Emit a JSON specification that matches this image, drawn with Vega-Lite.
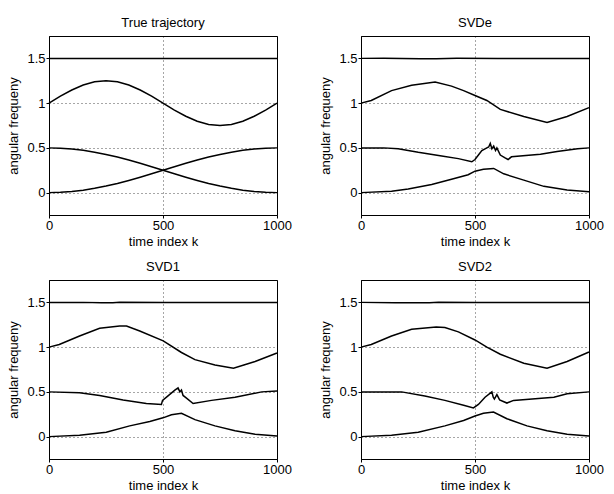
{
  "$schema": "https://vega.github.io/schema/vega-lite/v6.json",
  "padding": {"left": 7, "top": 16, "right": 5, "bottom": 5},
  "background": "white",
  "columns": 2,
  "bounds": "flush",
  "spacing": {"row": 65, "column": 84},
  "datasets": {
    "d": [
      {"p":"T","s":"a","k":0,"f":1.5},{"p":"T","s":"a","k":1000,"f":1.5},
      {"p":"T","s":"b","k":0,"f":1.0},{"p":"T","s":"b","k":50,"f":1.0773},{"p":"T","s":"b","k":100,"f":1.1469},{"p":"T","s":"b","k":150,"f":1.2023},{"p":"T","s":"b","k":200,"f":1.2378},{"p":"T","s":"b","k":250,"f":1.25},{"p":"T","s":"b","k":300,"f":1.2378},{"p":"T","s":"b","k":350,"f":1.2023},{"p":"T","s":"b","k":400,"f":1.1469},{"p":"T","s":"b","k":450,"f":1.0773},{"p":"T","s":"b","k":500,"f":1.0},{"p":"T","s":"b","k":550,"f":0.9227},{"p":"T","s":"b","k":600,"f":0.8531},{"p":"T","s":"b","k":650,"f":0.7977},{"p":"T","s":"b","k":700,"f":0.7622},{"p":"T","s":"b","k":750,"f":0.75},{"p":"T","s":"b","k":800,"f":0.7622},{"p":"T","s":"b","k":850,"f":0.7977},{"p":"T","s":"b","k":900,"f":0.8531},{"p":"T","s":"b","k":950,"f":0.9227},{"p":"T","s":"b","k":1000,"f":1.0},
      {"p":"T","s":"c","k":0,"f":0.5},{"p":"T","s":"c","k":50,"f":0.4969},{"p":"T","s":"c","k":100,"f":0.4878},{"p":"T","s":"c","k":150,"f":0.4728},{"p":"T","s":"c","k":200,"f":0.4523},{"p":"T","s":"c","k":250,"f":0.4268},{"p":"T","s":"c","k":300,"f":0.3969},{"p":"T","s":"c","k":350,"f":0.3635},{"p":"T","s":"c","k":400,"f":0.3273},{"p":"T","s":"c","k":450,"f":0.2891},{"p":"T","s":"c","k":500,"f":0.25},{"p":"T","s":"c","k":550,"f":0.2109},{"p":"T","s":"c","k":600,"f":0.1727},{"p":"T","s":"c","k":650,"f":0.1365},{"p":"T","s":"c","k":700,"f":0.1031},{"p":"T","s":"c","k":750,"f":0.0732},{"p":"T","s":"c","k":800,"f":0.0477},{"p":"T","s":"c","k":850,"f":0.0272},{"p":"T","s":"c","k":900,"f":0.0122},{"p":"T","s":"c","k":950,"f":0.0031},{"p":"T","s":"c","k":1000,"f":0.0},
      {"p":"T","s":"d","k":0,"f":0.0},{"p":"T","s":"d","k":50,"f":0.0031},{"p":"T","s":"d","k":100,"f":0.0122},{"p":"T","s":"d","k":150,"f":0.0272},{"p":"T","s":"d","k":200,"f":0.0477},{"p":"T","s":"d","k":250,"f":0.0732},{"p":"T","s":"d","k":300,"f":0.1031},{"p":"T","s":"d","k":350,"f":0.1365},{"p":"T","s":"d","k":400,"f":0.1727},{"p":"T","s":"d","k":450,"f":0.2109},{"p":"T","s":"d","k":500,"f":0.25},{"p":"T","s":"d","k":550,"f":0.2891},{"p":"T","s":"d","k":600,"f":0.3273},{"p":"T","s":"d","k":650,"f":0.3635},{"p":"T","s":"d","k":700,"f":0.3969},{"p":"T","s":"d","k":750,"f":0.4268},{"p":"T","s":"d","k":800,"f":0.4523},{"p":"T","s":"d","k":850,"f":0.4728},{"p":"T","s":"d","k":900,"f":0.4878},{"p":"T","s":"d","k":950,"f":0.4969},{"p":"T","s":"d","k":1000,"f":0.5},

      {"p":"E","s":"a","k":0,"f":1.5},{"p":"E","s":"a","k":100,"f":1.502},{"p":"E","s":"a","k":180,"f":1.499},{"p":"E","s":"a","k":260,"f":1.496},{"p":"E","s":"a","k":330,"f":1.497},{"p":"E","s":"a","k":420,"f":1.501},{"p":"E","s":"a","k":600,"f":1.5},{"p":"E","s":"a","k":800,"f":1.5},{"p":"E","s":"a","k":1000,"f":1.5},
      {"p":"E","s":"b","k":0,"f":1.0},{"p":"E","s":"b","k":45,"f":1.03},{"p":"E","s":"b","k":134,"f":1.14},{"p":"E","s":"b","k":222,"f":1.2},{"p":"E","s":"b","k":325,"f":1.235},{"p":"E","s":"b","k":397,"f":1.19},{"p":"E","s":"b","k":450,"f":1.14},{"p":"E","s":"b","k":500,"f":1.085},{"p":"E","s":"b","k":552,"f":1.03},{"p":"E","s":"b","k":611,"f":0.93},{"p":"E","s":"b","k":714,"f":0.85},{"p":"E","s":"b","k":816,"f":0.785},{"p":"E","s":"b","k":904,"f":0.85},{"p":"E","s":"b","k":1000,"f":0.95},
      {"p":"E","s":"c","k":0,"f":0.5},{"p":"E","s":"c","k":100,"f":0.5},{"p":"E","s":"c","k":163,"f":0.49},{"p":"E","s":"c","k":251,"f":0.45},{"p":"E","s":"c","k":354,"f":0.41},{"p":"E","s":"c","k":427,"f":0.38},{"p":"E","s":"c","k":486,"f":0.345},{"p":"E","s":"c","k":500,"f":0.37},{"p":"E","s":"c","k":515,"f":0.42},{"p":"E","s":"c","k":530,"f":0.47},{"p":"E","s":"c","k":552,"f":0.5},{"p":"E","s":"c","k":560,"f":0.51},{"p":"E","s":"c","k":567,"f":0.55},{"p":"E","s":"c","k":574,"f":0.49},{"p":"E","s":"c","k":582,"f":0.52},{"p":"E","s":"c","k":590,"f":0.47},{"p":"E","s":"c","k":596,"f":0.5},{"p":"E","s":"c","k":611,"f":0.42},{"p":"E","s":"c","k":630,"f":0.39},{"p":"E","s":"c","k":645,"f":0.37},{"p":"E","s":"c","k":660,"f":0.4},{"p":"E","s":"c","k":787,"f":0.43},{"p":"E","s":"c","k":860,"f":0.46},{"p":"E","s":"c","k":950,"f":0.49},{"p":"E","s":"c","k":1000,"f":0.5},
      {"p":"E","s":"d","k":0,"f":0.0},{"p":"E","s":"d","k":134,"f":0.015},{"p":"E","s":"d","k":207,"f":0.04},{"p":"E","s":"d","k":310,"f":0.09},{"p":"E","s":"d","k":397,"f":0.15},{"p":"E","s":"d","k":470,"f":0.2},{"p":"E","s":"d","k":500,"f":0.24},{"p":"E","s":"d","k":537,"f":0.26},{"p":"E","s":"d","k":582,"f":0.27},{"p":"E","s":"d","k":626,"f":0.21},{"p":"E","s":"d","k":714,"f":0.14},{"p":"E","s":"d","k":802,"f":0.07},{"p":"E","s":"d","k":904,"f":0.03},{"p":"E","s":"d","k":1000,"f":0.01},

      {"p":"1","s":"a","k":0,"f":1.5},{"p":"1","s":"a","k":150,"f":1.5},{"p":"1","s":"a","k":230,"f":1.495},{"p":"1","s":"a","k":280,"f":1.496},{"p":"1","s":"a","k":310,"f":1.501},{"p":"1","s":"a","k":500,"f":1.5},{"p":"1","s":"a","k":800,"f":1.5},{"p":"1","s":"a","k":1000,"f":1.5},
      {"p":"1","s":"b","k":0,"f":1.0},{"p":"1","s":"b","k":45,"f":1.03},{"p":"1","s":"b","k":134,"f":1.125},{"p":"1","s":"b","k":222,"f":1.21},{"p":"1","s":"b","k":310,"f":1.235},{"p":"1","s":"b","k":340,"f":1.235},{"p":"1","s":"b","k":398,"f":1.18},{"p":"1","s":"b","k":501,"f":1.07},{"p":"1","s":"b","k":581,"f":0.94},{"p":"1","s":"b","k":640,"f":0.86},{"p":"1","s":"b","k":728,"f":0.8},{"p":"1","s":"b","k":809,"f":0.765},{"p":"1","s":"b","k":904,"f":0.84},{"p":"1","s":"b","k":1000,"f":0.935},
      {"p":"1","s":"c","k":0,"f":0.5},{"p":"1","s":"c","k":134,"f":0.49},{"p":"1","s":"c","k":222,"f":0.46},{"p":"1","s":"c","k":325,"f":0.41},{"p":"1","s":"c","k":427,"f":0.37},{"p":"1","s":"c","k":493,"f":0.36},{"p":"1","s":"c","k":498,"f":0.405},{"p":"1","s":"c","k":522,"f":0.455},{"p":"1","s":"c","k":552,"f":0.52},{"p":"1","s":"c","k":566,"f":0.545},{"p":"1","s":"c","k":574,"f":0.5},{"p":"1","s":"c","k":581,"f":0.52},{"p":"1","s":"c","k":588,"f":0.46},{"p":"1","s":"c","k":603,"f":0.43},{"p":"1","s":"c","k":632,"f":0.37},{"p":"1","s":"c","k":713,"f":0.405},{"p":"1","s":"c","k":816,"f":0.44},{"p":"1","s":"c","k":933,"f":0.5},{"p":"1","s":"c","k":1000,"f":0.51},
      {"p":"1","s":"d","k":0,"f":0.0},{"p":"1","s":"d","k":134,"f":0.015},{"p":"1","s":"d","k":251,"f":0.05},{"p":"1","s":"d","k":354,"f":0.12},{"p":"1","s":"d","k":442,"f":0.17},{"p":"1","s":"d","k":500,"f":0.21},{"p":"1","s":"d","k":537,"f":0.245},{"p":"1","s":"d","k":581,"f":0.26},{"p":"1","s":"d","k":640,"f":0.19},{"p":"1","s":"d","k":728,"f":0.12},{"p":"1","s":"d","k":816,"f":0.065},{"p":"1","s":"d","k":904,"f":0.027},{"p":"1","s":"d","k":1000,"f":0.008},

      {"p":"2","s":"a","k":0,"f":1.5},{"p":"2","s":"a","k":150,"f":1.496},{"p":"2","s":"a","k":300,"f":1.495},{"p":"2","s":"a","k":340,"f":1.501},{"p":"2","s":"a","k":500,"f":1.5},{"p":"2","s":"a","k":800,"f":1.5},{"p":"2","s":"a","k":1000,"f":1.5},
      {"p":"2","s":"b","k":0,"f":1.0},{"p":"2","s":"b","k":45,"f":1.03},{"p":"2","s":"b","k":134,"f":1.125},{"p":"2","s":"b","k":222,"f":1.2},{"p":"2","s":"b","k":330,"f":1.225},{"p":"2","s":"b","k":368,"f":1.22},{"p":"2","s":"b","k":427,"f":1.17},{"p":"2","s":"b","k":500,"f":1.08},{"p":"2","s":"b","k":552,"f":1.0},{"p":"2","s":"b","k":611,"f":0.92},{"p":"2","s":"b","k":714,"f":0.82},{"p":"2","s":"b","k":816,"f":0.765},{"p":"2","s":"b","k":904,"f":0.84},{"p":"2","s":"b","k":1000,"f":0.945},
      {"p":"2","s":"c","k":0,"f":0.5},{"p":"2","s":"c","k":178,"f":0.5},{"p":"2","s":"c","k":280,"f":0.455},{"p":"2","s":"c","k":368,"f":0.405},{"p":"2","s":"c","k":450,"f":0.35},{"p":"2","s":"c","k":493,"f":0.32},{"p":"2","s":"c","k":515,"f":0.36},{"p":"2","s":"c","k":544,"f":0.44},{"p":"2","s":"c","k":574,"f":0.5},{"p":"2","s":"c","k":580,"f":0.44},{"p":"2","s":"c","k":585,"f":0.42},{"p":"2","s":"c","k":596,"f":0.47},{"p":"2","s":"c","k":608,"f":0.41},{"p":"2","s":"c","k":640,"f":0.375},{"p":"2","s":"c","k":669,"f":0.405},{"p":"2","s":"c","k":846,"f":0.44},{"p":"2","s":"c","k":904,"f":0.48},{"p":"2","s":"c","k":1000,"f":0.5},
      {"p":"2","s":"d","k":0,"f":0.0},{"p":"2","s":"d","k":134,"f":0.015},{"p":"2","s":"d","k":251,"f":0.05},{"p":"2","s":"d","k":368,"f":0.12},{"p":"2","s":"d","k":450,"f":0.18},{"p":"2","s":"d","k":500,"f":0.23},{"p":"2","s":"d","k":537,"f":0.26},{"p":"2","s":"d","k":581,"f":0.275},{"p":"2","s":"d","k":640,"f":0.2},{"p":"2","s":"d","k":728,"f":0.12},{"p":"2","s":"d","k":816,"f":0.065},{"p":"2","s":"d","k":904,"f":0.027},{"p":"2","s":"d","k":1000,"f":0.008}
    ]
  },
  "concat": [
    {
      "title": "True trajectory",
      "width": 228, "height": 179,
      "data": {"name": "d"},
      "transform": [{"filter": "datum.p === 'T'"}],
      "mark": {"type": "line", "color": "black", "strokeWidth": 1.5},
      "encoding": {
        "x": {"field": "k", "type": "quantitative", "scale": {"domain": [0, 1000], "nice": false}, "axis": {"values": [0, 500, 1000], "labelExpr": "'' + datum.value", "title": "time index k"}},
        "y": {"field": "f", "type": "quantitative", "scale": {"domain": [-0.25, 1.75], "nice": false, "zero": false}, "axis": {"values": [0, 0.5, 1, 1.5], "labelExpr": "'' + datum.value", "title": "angular frequeny"}},
        "detail": {"field": "s"}
      }
    },
    {
      "title": "SVDe",
      "width": 228, "height": 179,
      "data": {"name": "d"},
      "transform": [{"filter": "datum.p === 'E'"}],
      "mark": {"type": "line", "color": "black", "strokeWidth": 1.5},
      "encoding": {
        "x": {"field": "k", "type": "quantitative", "scale": {"domain": [0, 1000], "nice": false}, "axis": {"values": [0, 500, 1000], "labelExpr": "'' + datum.value", "title": "time index k"}},
        "y": {"field": "f", "type": "quantitative", "scale": {"domain": [-0.25, 1.75], "nice": false, "zero": false}, "axis": {"values": [0, 0.5, 1, 1.5], "labelExpr": "'' + datum.value", "title": "angular frequeny"}},
        "detail": {"field": "s"}
      }
    },
    {
      "title": "SVD1",
      "width": 228, "height": 179,
      "data": {"name": "d"},
      "transform": [{"filter": "datum.p === '1'"}],
      "mark": {"type": "line", "color": "black", "strokeWidth": 1.5},
      "encoding": {
        "x": {"field": "k", "type": "quantitative", "scale": {"domain": [0, 1000], "nice": false}, "axis": {"values": [0, 500, 1000], "labelExpr": "'' + datum.value", "title": "time index k"}},
        "y": {"field": "f", "type": "quantitative", "scale": {"domain": [-0.25, 1.75], "nice": false, "zero": false}, "axis": {"values": [0, 0.5, 1, 1.5], "labelExpr": "'' + datum.value", "title": "angular frequeny"}},
        "detail": {"field": "s"}
      }
    },
    {
      "title": "SVD2",
      "width": 228, "height": 179,
      "data": {"name": "d"},
      "transform": [{"filter": "datum.p === '2'"}],
      "mark": {"type": "line", "color": "black", "strokeWidth": 1.5},
      "encoding": {
        "x": {"field": "k", "type": "quantitative", "scale": {"domain": [0, 1000], "nice": false}, "axis": {"values": [0, 500, 1000], "labelExpr": "'' + datum.value", "title": "time index k"}},
        "y": {"field": "f", "type": "quantitative", "scale": {"domain": [-0.25, 1.75], "nice": false, "zero": false}, "axis": {"values": [0, 0.5, 1, 1.5], "labelExpr": "'' + datum.value", "title": "angular frequeny"}},
        "detail": {"field": "s"}
      }
    }
  ],
  "config": {
    "font": "Liberation Sans",
    "view": {"stroke": "black", "strokeWidth": 1},
    "axis": {
      "domainColor": "black", "gridColor": "black", "gridDash": [1, 3], "gridOpacity": 0.7,
      "labelColor": "black", "labelFontSize": 13, "labelFont": "Liberation Sans",
      "titleFontSize": 13, "titleFont": "Liberation Sans", "titleFontWeight": "normal", "titleColor": "black",
      "tickColor": "black", "tickSize": 3
    },
    "axisX": {"labelPadding": 1, "titlePadding": 3, "labelFlush": false},
    "axisY": {"labelPadding": 1, "titlePadding": 6},
    "title": {"fontSize": 13, "fontWeight": "normal", "font": "Liberation Sans", "color": "black", "offset": 6}
  }
}
